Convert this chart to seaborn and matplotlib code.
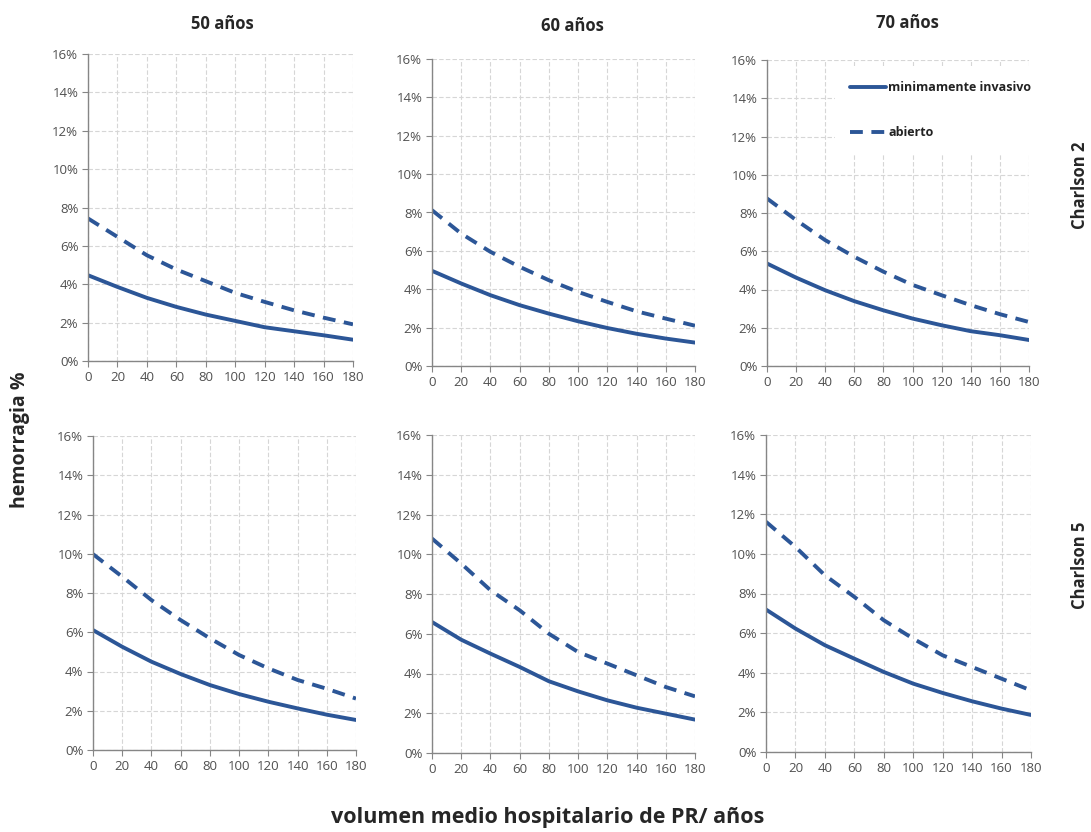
import matplotlib
matplotlib.use("Agg")
import matplotlib.pyplot as plt
import pandas as pd
import seaborn as sns

# Data (percent)
volumen = [0, 20, 40, 60, 80, 100, 120, 140, 160, 180]
edades = ["50 años", "60 años", "70 años"]
charlson = ["Charlson 2", "Charlson 5"]

mi_50_c2 = [4.47, 3.86, 3.29, 2.82, 2.42, 2.09, 1.76, 1.55, 1.34, 1.11]
ab_50_c2 = [7.43, 6.47, 5.51, 4.77, 4.16, 3.55, 3.08, 2.64, 2.26, 1.91]
mi_60_c2 = [4.96, 4.30, 3.69, 3.17, 2.73, 2.33, 1.98, 1.68, 1.43, 1.22]
ab_60_c2 = [8.12, 6.90, 5.95, 5.17, 4.47, 3.86, 3.34, 2.85, 2.47, 2.10]
mi_70_c2 = [5.36, 4.62, 3.96, 3.39, 2.91, 2.48, 2.13, 1.82, 1.61, 1.36]
ab_70_c2 = [8.76, 7.63, 6.58, 5.71, 4.93, 4.24, 3.70, 3.18, 2.71, 2.30]
mi_50_c5 = [6.11, 5.26, 4.50, 3.87, 3.31, 2.85, 2.46, 2.12, 1.80, 1.53]
ab_50_c5 = [9.98, 8.83, 7.64, 6.62, 5.69, 4.84, 4.16, 3.57, 3.12, 2.62]
mi_60_c5 = [6.59, 5.70, 5.00, 4.33, 3.61, 3.10, 2.65, 2.28, 1.98, 1.68]
ab_60_c5 = [10.79, 9.53, 8.19, 7.18, 6.00, 5.08, 4.50, 3.91, 3.32, 2.85]
mi_70_c5 = [7.19, 6.23, 5.39, 4.71, 4.04, 3.45, 2.98, 2.56, 2.19, 1.87]
ab_70_c5 = [11.62, 10.35, 8.92, 7.83, 6.65, 5.72, 4.88, 4.29, 3.70, 3.11]

series = [
    [(mi_50_c2, ab_50_c2), (mi_60_c2, ab_60_c2), (mi_70_c2, ab_70_c2)],
    [(mi_50_c5, ab_50_c5), (mi_60_c5, ab_60_c5), (mi_70_c5, ab_70_c5)],
]

# panel boxes in pixels: left, right, top, bottom
boxes = [
    [(88, 353, 54, 361), (432, 695, 59, 366), (767, 1029, 60, 366)],
    [(93, 356, 436, 750), (432, 695, 435, 753), (766, 1031, 435, 752)],
]

W, H = 1091, 832
azul = "#2C5697"
gris = "#868686"

sns.set_theme(style="white")
plt.rcParams["font.family"] = ["Open Sans", "DejaVu Sans"]

fig = plt.figure(figsize=(W / 100, H / 100), dpi=100)

for i in range(2):
    for j in range(3):
        l, r, t, b = boxes[i][j]
        ax = fig.add_axes([l / W, 1 - b / H, (r - l) / W, (b - t) / H])
        mi, ab = series[i][j]
        df = pd.DataFrame({
            "volumen": volumen * 2,
            "hemorragia": mi + ab,
            "tipo": ["minimamente invasivo"] * len(mi) + ["abierto"] * len(ab),
        })
        sns.lineplot(data=df, x="volumen", y="hemorragia", style="tipo",
                     dashes={"minimamente invasivo": "", "abierto": (3.3, 2.2)},
                     color=azul, linewidth=2.8, ax=ax, legend=(i == 0 and j == 2))
        ax.set_xlim(0, 180)
        ax.set_ylim(0, 16)
        ax.set_xticks(range(0, 181, 20))
        ax.set_yticks(range(0, 17, 2))
        ax.set_yticklabels([f"{v}%" for v in range(0, 17, 2)])
        ax.set_xlabel("")
        ax.set_ylabel("")
        ax.grid(True, color="#D6D6D6", linestyle=(0, (4, 2)), linewidth=0.8)
        ax.set_axisbelow(True)
        for s in ["top", "right"]:
            ax.spines[s].set_visible(False)
        for s in ["left", "bottom"]:
            ax.spines[s].set_color(gris)
            ax.spines[s].set_linewidth(1.0)
        ax.tick_params(axis="both", which="both", direction="out", length=4,
                       width=0.8, color=gris, labelsize=9.5, labelcolor="#505050",
                       left=True, bottom=True, pad=3)
        if i == 0 and j == 2:
            leg = ax.legend(loc="upper left", bbox_to_anchor=(835 / W, 1 - 66 / H),
                            bbox_transform=fig.transFigure, borderaxespad=0,
                            borderpad=1.2, handlelength=2.9, handletextpad=0.15,
                            labelspacing=2.6, frameon=True, fontsize=9)
            leg.get_frame().set_facecolor("white")
            leg.get_frame().set_edgecolor("none")
            leg.get_frame().set_alpha(1)
            for txt in leg.get_texts():
                txt.set_fontweight("bold")
                txt.set_color("#222222")

# column titles
fig.text(222 / W, 1 - 24 / H, edades[0], ha="center", va="center", fontsize=12, fontweight="bold")
fig.text(572 / W, 1 - 26 / H, edades[1], ha="center", va="center", fontsize=12, fontweight="bold")
fig.text(907 / W, 1 - 23 / H, edades[2], ha="center", va="center", fontsize=12, fontweight="bold")

# row labels
fig.text(1080 / W, 1 - 185 / H, charlson[0], ha="center", va="center", rotation=90,
         fontsize=12, fontweight="bold")
fig.text(1080 / W, 1 - 565 / H, charlson[1], ha="center", va="center", rotation=90,
         fontsize=12, fontweight="bold")

fig.text(20 / W, 1 - 440 / H, "hemorragia %", ha="center", va="center", rotation=90,
         fontsize=14, fontweight="bold")
fig.text(548 / W, 1 - 818 / H, "volumen medio hospitalario de PR/ años", ha="center",
         va="center", fontsize=15.5, fontweight="bold")

fig.savefig("out.png", dpi=100, facecolor="white")
